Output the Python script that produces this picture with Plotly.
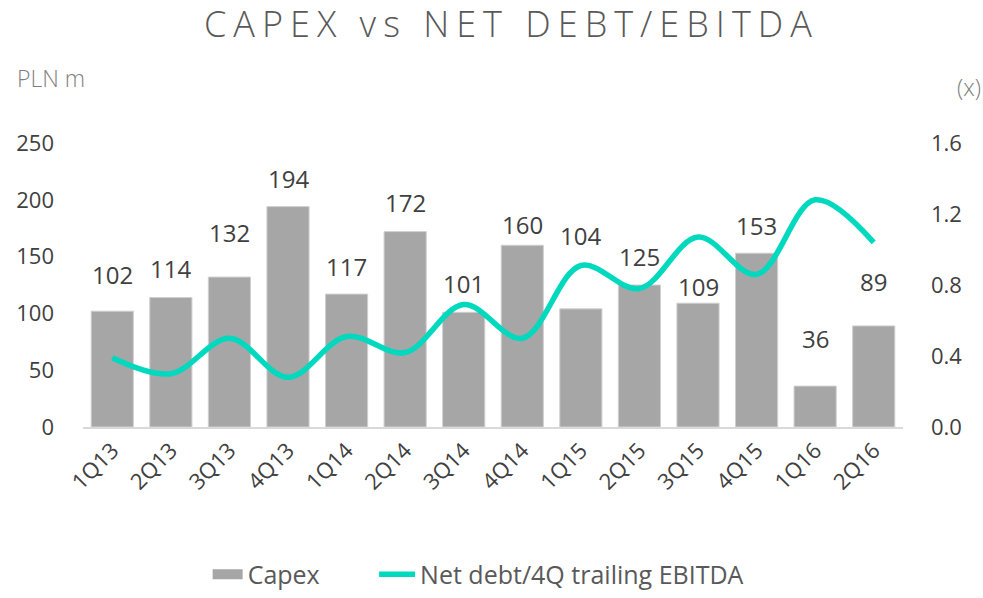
import plotly.graph_objects as go

quarters = ["1Q13", "2Q13", "3Q13", "4Q13", "1Q14", "2Q14", "3Q14", "4Q14",
            "1Q15", "2Q15", "3Q15", "4Q15", "1Q16", "2Q16"]
capex = [102, 114, 132, 194, 117, 172, 101, 160, 104, 125, 109, 153, 36, 89]
net_debt_ebitda = [0.39, 0.30, 0.50, 0.28, 0.51, 0.42, 0.69, 0.50,
                   0.91, 0.78, 1.07, 0.86, 1.28, 1.04]
left_ticks = [0, 50, 100, 150, 200, 250]
right_ticks = [0.0, 0.4, 0.8, 1.2, 1.6]

# label vertical offsets (px) above bar tops, as placed in the original
label_shift = [37, 29, 45, 28, 28, 29, 29, 21, 73, 29, 17, 28, 48, 44]

FONT = "Open Sans"
TXT = "#404040"
BAR = "#A6A6A6"
LINE = "#00D9BE"

fig = go.Figure()
fig.add_trace(go.Bar(
    x=quarters, y=capex, name="Capex", showlegend=False,
    marker=dict(color=BAR, line=dict(color="#D0D0D0", width=1)),
    yaxis="y",
))
# legend swatch for Capex (wide rectangle as in original)
fig.add_trace(go.Scatter(
    x=[None], y=[None], name="Capex", mode="lines",
    line=dict(color=BAR, width=17), yaxis="y", legend="legend",
))
fig.add_trace(go.Scatter(
    x=quarters, y=net_debt_ebitda, name="Net debt/4Q trailing EBITDA",
    mode="lines", line=dict(color=LINE, width=5.5, shape="spline", smoothing=1.0),
    yaxis="y2", legend="legend2",
))

for q, v, s in zip(quarters, capex, label_shift):
    fig.add_annotation(x=q, y=v, xref="x", yref="y", text=str(v), showarrow=False,
                       yshift=s, font=dict(family=FONT, size=24, color=TXT))

fig.add_annotation(x=0.522, y=1.42, xref="paper", yref="paper",
                   text='<span style="letter-spacing:7px">CAPEX vs NET DEBT/EBITDA</span>',
                   showarrow=False, xanchor="center", yanchor="middle",
                   font=dict(family=FONT, size=36, color="#595959", weight=300))
fig.add_annotation(x=-0.083, y=1.229, xref="paper", yref="paper", text="PLN m",
                   showarrow=False, xanchor="left", yanchor="middle",
                   font=dict(family=FONT, size=23, color="#7F7F7F", weight=300))
fig.add_annotation(x=1.097, y=1.197, xref="paper", yref="paper", text="(x)",
                   showarrow=False, xanchor="right", yanchor="middle",
                   font=dict(family=FONT, size=23, color="#7F7F7F", weight=300))

legend_font = dict(family=FONT, size=25, color="#595959")
fig.update_layout(
    width=983, height=598,
    margin=dict(l=83, r=80, t=143, b=171, autoexpand=False),
    paper_bgcolor="white", plot_bgcolor="white",
    bargap=0.28,
    hovermode=False,
    showlegend=True,
    legend=dict(orientation="h", x=0.152, xanchor="left", y=-0.60, yanchor="bottom",
                font=legend_font, itemwidth=30),
    legend2=dict(orientation="h", x=0.355, xanchor="left", y=-0.60, yanchor="bottom",
                 font=legend_font, itemwidth=36),
    xaxis=dict(tickangle=-45, tickfont=dict(family=FONT, size=22, color=TXT),
               showgrid=False, showline=True, linecolor="#D9D9D9", linewidth=2,
               ticks="", automargin=False),
    yaxis=dict(range=[0, 250], tickvals=left_ticks, showgrid=False, zeroline=False,
               tickfont=dict(family=FONT, size=22, color=TXT), ticks="",
               ticklabelstandoff=28, automargin=False),
    yaxis2=dict(range=[0, 1.6], tickvals=right_ticks, tickformat=".1f",
                overlaying="y", side="right", showgrid=False, zeroline=False,
                tickfont=dict(family=FONT, size=22, color=TXT), ticks="",
                ticklabelstandoff=27, automargin=False),
)

fig.write_html("out.html", config={"displayModeBar": False},
               post_script="document.body.style.margin='0';")
